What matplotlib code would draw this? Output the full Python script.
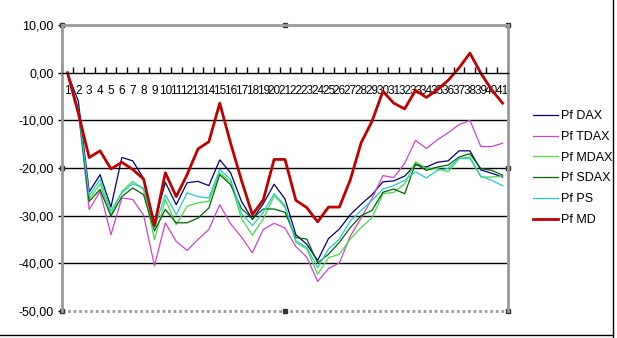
import matplotlib
matplotlib.use("Agg")
import matplotlib.pyplot as plt

plt.rcParams['font.family'] = ['Liberation Sans', 'DejaVu Sans']

# category axis 1..41
days = list(range(1, 42))

pf_dax = [0, -6, -25, -21.4, -28.2, -17.8, -18.5, -22.2, -31.5, -23, -27.7, -23.1, -22.8, -23.7,
          -18.3, -21, -27, -30.8, -27.5, -23.4, -26.5, -34, -36, -39.4, -34.8, -32.8, -29.8,
          -27.6, -25.6, -22.9, -22.7, -21.7, -19.3, -19.8, -18.8, -18.5, -16.4, -16.4, -20.4,
          -21.1, -21.9]
pf_tdax = [0, -8, -28.7, -24.9, -34.0, -26.3, -26.6, -29.9, -40.5, -31.5, -35.4, -37.3, -35.0,
           -32.9, -27.7, -31.7, -34.5, -37.8, -32.9, -31.6, -32.6, -36.5, -38.7, -43.8, -41.1,
           -39.9, -34.3, -30.5, -26.4, -21.6, -22.0, -19.0, -14.2, -15.9, -14.1, -12.6, -10.9,
           -10.0, -15.5, -15.5, -14.8]
pf_mdax = [0, -8, -26.5, -23.3, -29.8, -24.9, -22.8, -24.5, -35.0, -26.6, -31.9, -28.0, -27.3,
           -27.0, -21.0, -23.0, -30.6, -34.1, -30.7, -25.8, -28.2, -35.6, -37.0, -42.3, -38.8,
           -38.1, -34.9, -32.5, -30.4, -25.4, -25.1, -23.3, -18.7, -20.1, -20.1, -20.8, -18.0,
           -17.7, -21.9, -21.9, -21.7]
pf_sdax = [0, -8, -27.0, -24.5, -30.1, -26.0, -24.2, -25.6, -33.2, -28.7, -31.5, -31.5, -30.5,
           -28.4, -21.4, -23.5, -28.5, -30.7, -28.6, -28.6, -29.3, -34.6, -34.9, -39.9, -38.1,
           -35.6, -32.5, -30.0, -28.9, -25.1, -24.4, -25.4, -19.1, -20.5, -19.8, -19.4, -17.7,
           -17.0, -20.1, -20.5, -21.5]
pf_ps = [0, -7.5, -25.8, -22.4, -29.0, -25.2, -23.3, -24.2, -32.6, -25.6, -29.8, -25.2, -26.0,
         -26.3, -20.3, -22.4, -29.5, -32.1, -29.3, -25.4, -27.9, -35.3, -36.7, -40.9, -37.0,
         -34.9, -31.1, -28.9, -26.8, -24.4, -23.7, -22.6, -20.8, -22.1, -20.5, -20.1, -18.0,
         -18.0, -21.7, -22.6, -23.7]
pf_md = [0, -8.5, -17.8, -16.4, -20.2, -18.8, -20.3, -22.3, -32.1, -21.0, -26.0, -21.4, -16.0,
         -14.5, -6.4, -14.8, -22.6, -29.8, -26.7, -18.2, -18.2, -26.8, -28.3, -31.3, -28.2,
         -28.2, -22.5, -14.7, -10.2, -3.9, -6.4, -7.6, -3.7, -5.2, -3.6, -1.6, 1.0, 4.1, -0.1,
         -3.6, -6.4]

y_ticks = [10, 0, -10, -20, -30, -40, -50]

fig = plt.figure(figsize=(6.17, 3.38), dpi=100)
ax = fig.add_axes([62/617, 1 - 311/338, 446/617, 286/338])

ax.plot(days, pf_dax, color='#000070', lw=0.9, label='Pf DAX')
ax.plot(days, pf_tdax, color='#CC44CC', lw=0.9, label='Pf TDAX')
ax.plot(days, pf_mdax, color='#44DD44', lw=0.9, label='Pf MDAX')
ax.plot(days, pf_sdax, color='#006600', lw=0.9, label='Pf SDAX')
ax.plot(days, pf_ps, color='#22CCCC', lw=0.9, label='Pf PS')
ax.plot(days, pf_md, color='#C00000', lw=2.0, label='Pf MD')

ax.set_xlim(0.5, 41.5)
ax.set_ylim(-50, 10)

# gridlines inside the plot area
for v in y_ticks[2:-1]:
    ax.axhline(v, color='black', lw=1.0, zorder=0)

# category axis crosses at 0
ax.spines['bottom'].set_position(('data', 0))
ax.spines['bottom'].set_color('black')
ax.spines['bottom'].set_linewidth(1.0)
ax.set_xticks([d - 0.5 for d in days] + [41.5])
ax.set_xticklabels([])
ax.set_xticks(days, minor=True)
ax.set_xticklabels([str(d) for d in days], minor=True, fontsize=8.5)
ax.tick_params(axis='x', which='major', direction='in', length=4, width=1, color='black')
ax.tick_params(axis='x', which='minor', length=0, pad=9)

ax.set_yticks(y_ticks)
ax.set_yticklabels([f"{v},00" for v in y_ticks], fontsize=9)
ax.tick_params(axis='y', direction='out', length=3, width=1, pad=3)

# grey checkered plot-area border
for s in ['left', 'top', 'right']:
    ax.spines[s].set_color('#9a9a9a')
    ax.spines[s].set_linewidth(2.0)
    ax.spines[s].set_linestyle((0, (1, 1)))
ax.plot([0, 1], [0, 0], transform=ax.transAxes, color='#9a9a9a', lw=2.0,
        ls=(0, (1, 1)), clip_on=False)
hx = [0, 0.5, 1, 0, 1, 0, 0.5, 1]
hy = [1, 1, 1, 0.5, 0.5, 0, 0, 0]
ax.plot(hx, hy, 's', transform=ax.transAxes, ms=3, color='#333333', clip_on=False)

fig.legend(loc='center left', bbox_to_anchor=(527/617, 1 - 168/338), frameon=False,
           fontsize=9, handlelength=2.0, handletextpad=0.2, labelspacing=0.7, borderpad=0)

# chart area border (right and bottom edges visible)
fig.add_artist(plt.Line2D([613/617, 613/617], [1 - 337/338, 1], color='black', lw=1))
fig.add_artist(plt.Line2D([0, 613/617], [1 - 335/338, 1 - 335/338], color='black', lw=1))

fig.savefig("out.png", dpi=100)
